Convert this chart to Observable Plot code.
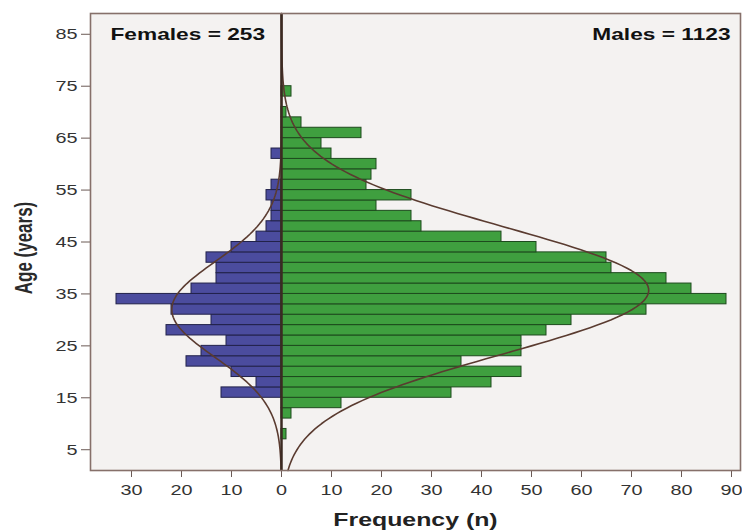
<!DOCTYPE html>
<html><head><meta charset="utf-8">
<script src="https://cdn.jsdelivr.net/npm/d3@7"></script>
<script src="https://cdn.jsdelivr.net/npm/@observablehq/plot@0.6"></script>
<style>
html,body{margin:0;padding:0;background:#fff;}
#chart svg{display:block;}
</style>
</head><body><div id="chart"></div>
<script>
// Age bins (lower edge, 2-year width)
const ageBinStart = [7,9,11,13,15,17,19,21,23,25,27,29,31,33,35,37,39,41,43,45,47,49,51,53,55,57,59,61,63,65,67,69,71,73];
const maleCounts   = [1,0,2,12,34,42,48,36,48,48,53,58,73,89,82,77,66,65,51,44,28,26,19,26,17,18,19,10,8,16,4,1,0,2];
const femaleCounts = [0,0,0,0,12,5,10,19,16,11,23,14,22,33,18,13,13,15,10,5,3,2,2,3,2,0,0,2,0,0,0,0,0,0];
const binWidth = 2;
const maleN = 1123, femaleN = 253;
const maleMean = 35.7, maleSD = 12.2;
const femaleMean = 32.0, femaleSD = 9.2;
const yTicks = [5,15,25,35,45,55,65,75,85];
const xTicks = [-30,-20,-10,0,10,20,30,40,50,60,70,80,90];
const femaleLabel = "Females = 253";
const maleLabel = "Males = 1123";
const xLabel = "Frequency (n)";
const yLabel = "Age (years)";

const maleBars = ageBinStart.map((a,i)=>({y1:a, y2:a+binWidth, x:maleCounts[i]})).filter(d=>d.x>0);
const femaleBars = ageBinStart.map((a,i)=>({y1:a, y2:a+binWidth, x:-femaleCounts[i]})).filter(d=>d.x<0);

// fitted normal curves (SPSS style), evaluated on an age grid
const curveAges = d3.range(1, 89.001, 0.5);
const pdf = (a, m, s) => Math.exp(-0.5*((a-m)/s)**2)/(s*Math.sqrt(2*Math.PI));

const chart = Plot.plot({
  width: 742, height: 531,
  marginLeft: 90, marginRight: 2, marginTop: 13, marginBottom: 61,
  style: {fontFamily: "'Liberation Sans', Arial, sans-serif", fontSize: "15.5px", background: "#fff", color: "#333"},
  x: {domain: [-38.2, 91.8]},
  y: {domain: [1, 89]},
  marks: [
    Plot.frame({fill: "#f4f2f1", stroke: null}),
    Plot.rect(femaleBars, {x1: d=>0, x2: "x", y1: "y1", y2: "y2", fill: "#4b4c9e", stroke: "#22224a", strokeWidth: 1}),
    Plot.rect(maleBars, {x1: d=>0, x2: "x", y1: "y1", y2: "y2", fill: "#3f9f3f", stroke: "#1d4a1d", strokeWidth: 1}),
    Plot.line(curveAges, {x: a => -femaleN*binWidth*pdf(a, femaleMean, femaleSD), y: a => a, stroke: "#5a3b30", strokeWidth: 1.6}),
    Plot.line(curveAges, {x: a => maleN*binWidth*pdf(a, maleMean, maleSD), y: a => a, stroke: "#5a3b30", strokeWidth: 1.6}),
    Plot.ruleX([0], {stroke: "#3b2a22", strokeWidth: 2.5}),
    Plot.axisX(xTicks, {tickSize: 7, tickPadding: 6, tickFormat: d => Math.abs(d), label: null, stroke: "#6b5a55", fill: "#333"}),
    Plot.axisY(yTicks, {tickSize: 9, tickPadding: 4, label: null, stroke: "#6b5a55", fill: "#333"}),
    Plot.text([xLabel], {frameAnchor: "bottom", dy: 43, lineAnchor: "top", fontSize: 17.5, fontWeight: "bold", fill: "#222"}),
    Plot.text([yLabel], {frameAnchor: "left", dx: -66, dy: 6, rotate: -90, textAnchor: "middle", lineAnchor: "middle", fontSize: 17, fontWeight: "bold", fill: "#2a2a2a"}),
    Plot.text([femaleLabel], {frameAnchor: "top-left", dx: 20, dy: 21.7, textAnchor: "start", lineAnchor: "middle", fontSize: 16, fontWeight: "bold", fill: "#111"}),
    Plot.text([maleLabel], {frameAnchor: "top-right", dx: -10, dy: 21.7, textAnchor: "end", lineAnchor: "middle", fontSize: 16, fontWeight: "bold", fill: "#111"}),
    Plot.frame({stroke: "#86706a", strokeWidth: 1.6})
  ]
});

// reproduce the horizontally stretched look of the reference text
chart.querySelectorAll("text").forEach(t => {
  const g = t.closest("g[aria-label]");
  const isTick = g && /tick label/.test(g.getAttribute("aria-label"));
  const S = isTick ? 1.28 : 1.42;
  let tr = t.getAttribute("transform");
  if (!tr) {
    const x = +(t.getAttribute("x") || 0), y = +(t.getAttribute("y") || 0);
    t.removeAttribute("x"); t.removeAttribute("y");
    tr = `translate(${x},${y})`;
  }
  t.setAttribute("transform", tr + (tr.includes("rotate") ? ` scale(1,${S})` : ` scale(${S},1)`));
});

document.getElementById("chart").append(chart);
</script>
</body></html>
